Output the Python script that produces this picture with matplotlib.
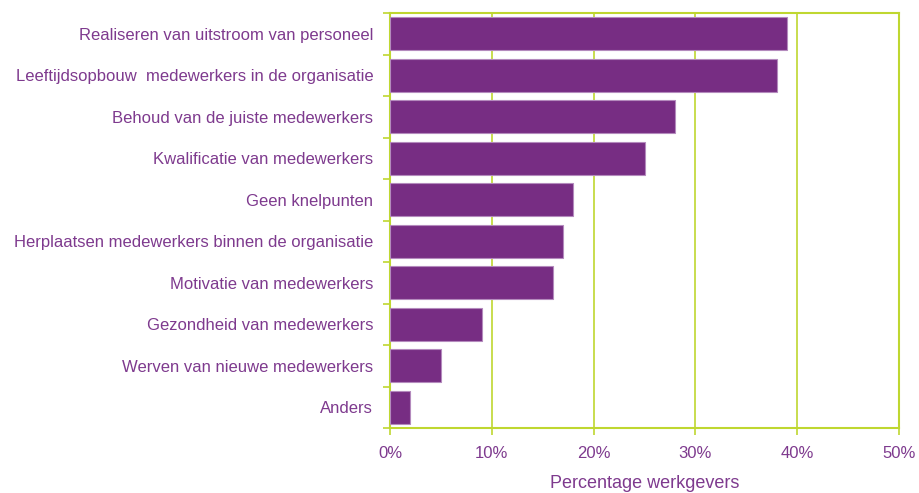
import numpy as np
import matplotlib.pyplot as plt

categories = [
    'Realiseren van uitstroom van personeel',
    'Leeftijdsopbouw  medewerkers in de organisatie',
    'Behoud van de juiste medewerkers',
    'Kwalificatie van medewerkers',
    'Geen knelpunten',
    'Herplaatsen medewerkers binnen de organisatie',
    'Motivatie van medewerkers',
    'Gezondheid van medewerkers',
    'Werven van nieuwe medewerkers',
    'Anders',
]
percentages = [39, 38, 28, 25, 18, 17, 16, 9, 5, 2]
xticks = [0, 10, 20, 30, 40, 50]

purple = '#772D83'
green = '#BFD730'
text_col = '#7E3A8E'

plt.rcParams['font.family'] = ['Liberation Sans', 'DejaVu Sans']

fig = plt.figure(figsize=(9.2, 4.93), dpi=100)
ax = fig.add_axes([390 / 920, 1 - 428 / 493, 509 / 920, 415 / 493])

y = np.arange(len(categories))
ax.barh(y, percentages, height=0.8, color=purple, edgecolor='#B48ABD', linewidth=0.8, zorder=3)

ax.set_xlim(0, 50)
ax.set_ylim(len(categories) - 0.5, -0.5)
ax.set_xticks(xticks)
ax.set_xticklabels([f'{t}%' for t in xticks], color=text_col, fontsize=12)
ax.set_yticks(y)
ax.set_yticklabels(categories, color=text_col, fontsize=12)
ax.set_yticks(np.arange(len(categories) + 1) - 0.5, minor=True)
ax.tick_params(axis='y', which='major', length=0, pad=12)
ax.tick_params(axis='y', which='minor', length=5, color=green, width=1.2)
ax.tick_params(axis='x', length=5, color=green, width=1.2, pad=8)

ax.grid(axis='x', color=green, linewidth=1.2, zorder=0)
for s in ax.spines.values():
    s.set_color(green)
    s.set_linewidth(1.5)

ax.set_xlabel('Percentage werkgevers', color=text_col, fontsize=13, labelpad=10)

fig.savefig('out.png', dpi=100)
